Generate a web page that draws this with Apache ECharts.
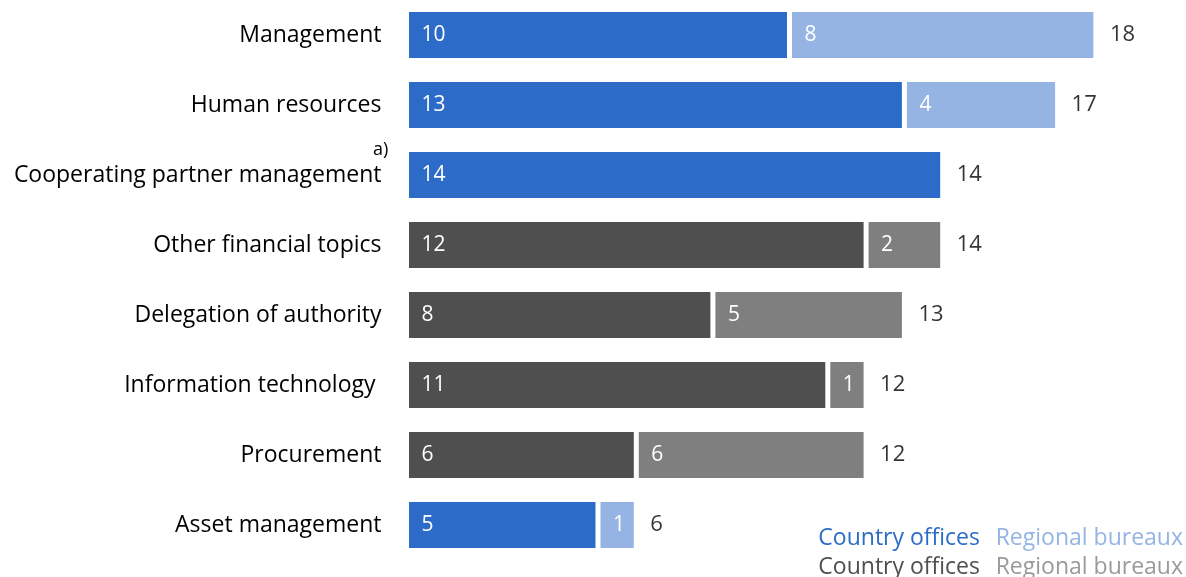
<!DOCTYPE html>
<html>
<head>
<meta charset="utf-8">
<script src="https://cdn.jsdelivr.net/npm/echarts@6/dist/echarts.min.js"></script>
<style>
  html, body { margin: 0; padding: 0; background: #ffffff; }
  #chart { width: 1186px; height: 577px; }
</style>
</head>
<body>
<div id="chart"></div>
<script>
// Topics, top to bottom
const categories = [
  'Management',
  'Human resources',
  'Cooperating partner management',
  'Other financial topics',
  'Delegation of authority',
  'Information technology ',
  'Procurement',
  'Asset management'
];
// Number of recommendations per topic
const countryOffices   = [10, 13, 14, 12, 8, 11, 6, 5];
const regionalBureaux  = [8, 4, 0, 2, 5, 1, 6, 1];
// Topics shown in grey rather than blue
const greyTopics = [false, false, false, true, true, true, true, false];

const BLUE = '#2c6cc8', LIGHT_BLUE = '#95b4e3';
const DARK_GREY = '#4f4f4f', GREY = '#7f7f7f';
const FONT = '"Open Sans", sans-serif';

const totals = countryOffices.map((v, i) => v + regionalBureaux[i]);

function part(values, grey) {
  return values.map((v, i) => (greyTopics[i] === grey && v > 0) ? v : null);
}

function barSeries(name, data, color) {
  return {
    name: name,
    type: 'bar',
    stack: 'total',
    data: data,
    barWidth: 51,
    itemStyle: { color: color, borderColor: '#ffffff', borderWidth: 2.5 },
    label: {
      show: true,
      position: 'insideLeft',
      distance: 15,
      padding: [4, 0, 0, 0],
      color: '#ffffff',
      fontFamily: FONT,
      fontSize: 21,
      formatter: p => p.value
    },
    emphasis: { disabled: true },
    animation: false
  };
}

const chart = echarts.init(document.getElementById('chart'), null, { renderer: 'canvas' });
chart.setOption({
  backgroundColor: '#ffffff',
  animation: false,
  grid: { left: 406.5, top: 0, right: 13.5, bottom: 17, containLabel: false },
  xAxis: {
    type: 'value',
    min: 0,
    max: 20,
    show: false
  },
  yAxis: {
    type: 'category',
    data: categories,
    inverse: true,
    axisLine: { show: false },
    axisTick: { show: false },
    axisLabel: {
      margin: 25,
      padding: [4, 0, 0, 0],
      color: '#000000',
      fontFamily: FONT,
      fontSize: 23
    }
  },
  series: [
    barSeries('Country offices', part(countryOffices, false), BLUE),
    barSeries('Country offices grey', part(countryOffices, true), DARK_GREY),
    barSeries('Regional bureaux', part(regionalBureaux, false), LIGHT_BLUE),
    barSeries('Regional bureaux grey', part(regionalBureaux, true), GREY),
    {
      name: 'Total',
      type: 'scatter',
      data: totals.map((t, i) => [t, categories[i]]),
      symbolSize: 0,
      label: {
        show: true,
        position: 'right',
        distance: 14,
        padding: [4, 0, 0, 0],
        color: '#000000',
        fontFamily: FONT,
        fontSize: 22,
        formatter: p => p.value[0]
      },
      emphasis: { disabled: true }
    }
  ],
  graphic: [
    {
      type: 'text', left: 373, top: 141,
      style: { text: 'a)', fill: '#000000', font: '18px ' + FONT }
    },
    {
      type: 'text', right: 206, top: 527,
      style: { text: 'Country offices', fill: BLUE, font: '23px ' + FONT }
    },
    {
      type: 'text', right: 3, top: 527,
      style: { text: 'Regional bureaux', fill: LIGHT_BLUE, font: '23px ' + FONT }
    },
    {
      type: 'text', right: 206, top: 556,
      style: { text: 'Country offices', fill: DARK_GREY, font: '23px ' + FONT }
    },
    {
      type: 'text', right: 3, top: 556,
      style: { text: 'Regional bureaux', fill: '#9a9a9a', font: '23px ' + FONT }
    }
  ]
});
</script>
</body>
</html>
